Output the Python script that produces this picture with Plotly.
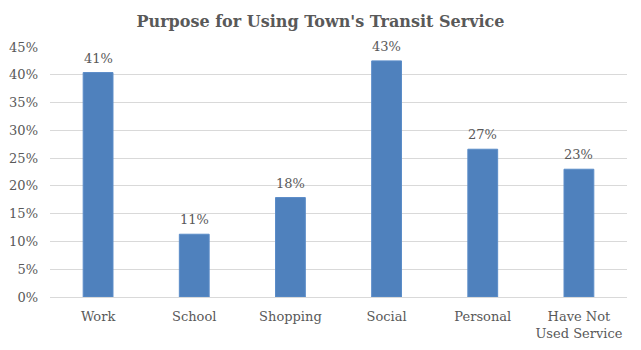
import plotly.graph_objects as go

categories = ["Work", "School", "Shopping", "Social", "Personal", "Have Not<br>Used Service"]
values = [0.404, 0.113, 0.179, 0.425, 0.266, 0.230]
labels = ["41%", "11%", "18%", "43%", "27%", "23%"]
tick_vals = [0, 0.05, 0.10, 0.15, 0.20, 0.25, 0.30, 0.35, 0.40, 0.45]
tick_text = ["0%", "5%", "10%", "15%", "20%", "25%", "30%", "35%", "40%", "45%"]

font_family = "DejaVu Serif, serif"
grey = "#595959"

fig = go.Figure(
    go.Bar(
        x=categories,
        y=values,
        marker=dict(color="#4f81bd", line=dict(color="#5b8cc8", width=1)),
        cliponaxis=False,
    )
)

for c, v, t in zip(categories, values, labels):
    fig.add_annotation(
        x=c, y=v, text=t, showarrow=False,
        yanchor="bottom", yshift=5,
        font=dict(family=font_family, size=13, color=grey),
    )

fig.update_layout(
    width=641,
    height=350,
    margin=dict(l=50, r=14, t=47, b=53),
    paper_bgcolor="white",
    plot_bgcolor="white",
    bargap=0.69,
    showlegend=False,
    title=dict(
        text="<b>Purpose for Using Town's Transit Service</b>",
        x=0.5,
        xanchor="center",
        y=0.94,
        yanchor="middle",
        font=dict(family=font_family, size=16, color=grey),
    ),
    font=dict(family=font_family, size=13, color=grey),
)

fig.update_xaxes(
    automargin=False,
    showgrid=False,
    showline=False,
    ticks="",
    ticklabelstandoff=10,
    tickfont=dict(family=font_family, size=13, color=grey),
)
fig.update_yaxes(
    automargin=False,
    range=[0, 0.45],
    tickvals=tick_vals,
    ticktext=tick_text,
    showgrid=True,
    gridcolor="#d9d9d9",
    gridwidth=1,
    zeroline=True,
    zerolinecolor="#d9d9d9",
    zerolinewidth=1,
    showline=False,
    ticks="",
    ticklabelstandoff=11,
    tickfont=dict(family=font_family, size=13, color=grey),
)

fig.write_html("out.html")
